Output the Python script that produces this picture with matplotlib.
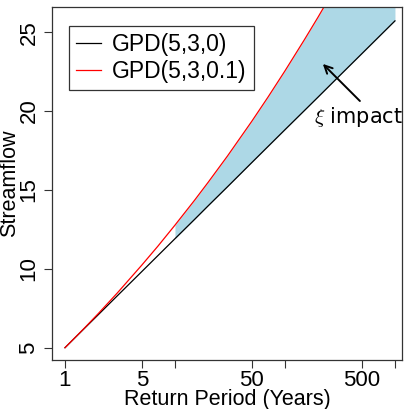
import matplotlib
matplotlib.use("Agg")
import matplotlib.pyplot as plt
import numpy as np

# return periods (years) and return levels
periods = [1, 1.5, 2, 3, 5, 7, 10, 15, 20, 30, 50, 70, 100, 150, 200, 300, 500, 700, 1000]
gpd_xi0 = [5.00, 6.22, 7.08, 8.30, 9.83, 10.84, 11.91, 13.12, 13.99, 15.20, 16.74,
           17.75, 18.82, 20.03, 20.89, 22.11, 23.64, 24.65, 25.72]
gpd_xi01 = [5.00, 6.24, 7.15, 8.48, 10.24, 11.44, 12.77, 14.33, 15.48, 17.15, 19.36,
            20.88, 22.55, 24.52, 25.96, 28.07, 30.85, 32.76, 34.86]

xticks = [1, 5, 10, 50, 100, 500, 1000]
xticklabels = ["1", "5", "", "50", "", "500", ""]
yticks = [5, 10, 15, 20, 25]

plt.rcParams['font.family'] = ['Liberation Sans', 'DejaVu Sans']
plt.rcParams['mathtext.fontset'] = 'cm'

fig = plt.figure(figsize=(4.05, 4.09), dpi=100)
ax = fig.add_axes([52 / 405, 1 - 360 / 409, 350 / 405, 353 / 409])

x = np.array(periods)
lo = np.array(gpd_xi0)
hi = np.array(gpd_xi01)
m = x >= 10
ax.fill_between(x[m], lo[m], hi[m], color='lightblue', linewidth=0)

ax.plot(periods, gpd_xi0, color='black', lw=0.9, label='GPD(5,3,0)')
ax.plot(periods, gpd_xi01, color='red', lw=0.9, label='GPD(5,3,0.1)')

ax.set_xscale('log')
ax.set_xlim(10 ** -0.118, 10 ** 3.064)
ax.set_ylim(4.22, 26.6)
ax.set_xticks(xticks)
ax.set_xticklabels(xticklabels)
ax.minorticks_off()
ax.set_yticks(yticks)
ax.set_yticklabels([str(v) for v in yticks], rotation=90, va='center')
ax.tick_params(labelsize=16, length=6, width=0.8, color='#333333')
ax.tick_params(axis='x', pad=1)
ax.tick_params(axis='y', pad=3)

for s in ax.spines.values():
    s.set_linewidth(0.9)
    s.set_color('#333333')

ax.set_xlabel('Return Period (Years)', fontsize=15.5, labelpad=-1)
ax.set_ylabel('Streamflow', fontsize=15.5, labelpad=-1)

leg = ax.legend(loc='upper left', bbox_to_anchor=(0.048, 0.945), fontsize=16.5,
                frameon=True, fancybox=False, handlelength=1.1, handletextpad=0.5,
                borderpad=0.3, labelspacing=0.15, borderaxespad=0)
leg.get_frame().set_edgecolor('black')
leg.get_frame().set_linewidth(0.9)

ax.annotate('', xy=(221, 22.99), xytext=(480, 20.64),
            arrowprops=dict(arrowstyle='->', color='black', lw=1.4,
                            shrinkA=0, shrinkB=0, mutation_scale=14))
ax.text(470, 19.63, r'$\xi$ impact', fontsize=15, ha='center', va='center',
        family='DejaVu Sans')

fig.savefig('out.png', dpi=100)
